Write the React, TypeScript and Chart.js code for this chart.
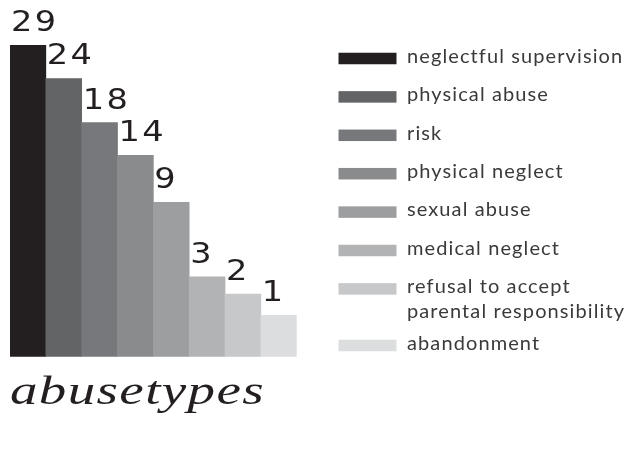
import React, { useEffect, useRef } from "react";
import { Chart, registerables, LinearScale } from "chart.js";

const categories = [
  "neglectful supervision",
  "physical abuse",
  "risk",
  "physical neglect",
  "sexual abuse",
  "medical neglect",
  "refusal to accept parental responsibility",
  "abandonment",
];
const values = [29, 24, 18, 14, 9, 3, 2, 1];
const barColors = [
  "#231f20",
  "#636466",
  "#77787b",
  "#8a8b8d",
  "#9d9ea0",
  "#b2b3b5",
  "#c7c8ca",
  "#dcdddf",
];
const titleText = "abusetypes";

class PowerScale extends LinearScale {
  static id = "power";
  static defaults = { ...LinearScale.defaults };
  getPixelForValue(value: number) {
    const exp = (this.options as any).exponent ?? 1;
    const range = this.max - this.min || 1;
    const t = Math.pow(Math.max(0, (value - this.min) / range), exp);
    return this.getPixelForDecimal(t);
  }
  getValueForPixel(pixel: number) {
    const exp = (this.options as any).exponent ?? 1;
    const range = this.max - this.min || 1;
    const t = Math.max(0, this.getDecimalForPixel(pixel));
    return this.min + Math.pow(t, 1 / exp) * range;
  }
}

Chart.register(...registerables, PowerScale as any);

const valueLabels = {
  id: "valueLabels",
  afterDatasetsDraw(chart: any) {
    const ctx = chart.ctx as CanvasRenderingContext2D;
    const meta = chart.getDatasetMeta(0);
    meta.data.forEach((bar: any, i: number) => {
      const p = bar.getProps(["x", "y", "width"], true);
      const left = p.x - p.width / 2;
      ctx.save();
      ctx.font = '28px "DejaVu Sans"';
      ctx.fillStyle = "#231f20";
      ctx.textAlign = "left";
      ctx.textBaseline = "alphabetic";
      (ctx as any).letterSpacing = "2px";
      ctx.translate(left + 1, p.y - 14);
      ctx.scale(1.2, 1);
      ctx.fillText(String(values[i]), 0, 0);
      ctx.restore();
    });
  },
};

function wrap(ctx: CanvasRenderingContext2D, text: string, maxW: number) {
  const words = text.split(" ");
  const lines: string[] = [];
  let cur = "";
  words.forEach((w) => {
    const test = cur ? cur + " " + w : w;
    if (ctx.measureText(test).width > maxW && cur) {
      lines.push(cur);
      cur = w;
    } else cur = test;
  });
  if (cur) lines.push(cur);
  return lines;
}

const sideLegend = {
  id: "sideLegend",
  afterDraw(chart: any) {
    const ctx = chart.ctx as CanvasRenderingContext2D;
    ctx.save();
    ctx.font = '20px "Lato"';
    (ctx as any).letterSpacing = "1.1px";
    ctx.textAlign = "left";
    ctx.textBaseline = "alphabetic";
    const boxX = 338.5;
    const boxW = 58;
    const boxH = 11.5;
    const textX = 407;
    let cy = 58.5;
    categories.forEach((c, i) => {
      const lines = wrap(ctx, c, 232);
      ctx.fillStyle = barColors[i];
      ctx.fillRect(boxX, cy - boxH / 2, boxW, boxH);
      ctx.fillStyle = "#3a3a3a";
      lines.forEach((ln, j) => {
        ctx.fillText(ln, textX, cy + 4.2 + j * 24.4);
      });
      cy += 38.4 + (lines.length - 1) * 18.2;
    });
    ctx.restore();
  },
};

const scriptTitle = {
  id: "scriptTitle",
  afterDraw(chart: any) {
    const ctx = chart.ctx as CanvasRenderingContext2D;
    ctx.save();
    ctx.font = 'italic 40px "Liberation Serif"';
    ctx.fillStyle = "#231f20";
    ctx.textAlign = "left";
    ctx.textBaseline = "alphabetic";
    (ctx as any).letterSpacing = "1px";
    const w = ctx.measureText(titleText).width;
    const target = 255;
    const sx = target / w;
    ctx.translate(10, 404);
    ctx.scale(sx, 1);
    ctx.fillText(titleText, 0, 0);
    ctx.restore();
  },
};

export default function App() {
  const ref = useRef<HTMLCanvasElement | null>(null);
  useEffect(() => {
    if (!ref.current) return;
    const chart = new Chart(ref.current, {
      type: "bar",
      data: {
        labels: categories,
        datasets: [
          {
            data: values,
            backgroundColor: barColors,
            borderWidth: 0,
            barPercentage: 1,
            categoryPercentage: 1,
          },
        ],
      },
      options: {
        responsive: false,
        animation: false,
        layout: { padding: { left: 10, right: 338.3, top: 45, bottom: 93.3 } },
        plugins: {
          legend: { display: false },
          tooltip: { enabled: false },
          title: { display: false },
        },
        scales: {
          x: { type: "category", display: false, offset: true, grid: { display: false } },
          y: {
            type: "power" as any,
            display: false,
            min: 0,
            max: 29,
            exponent: 0.6,
          } as any,
        },
      },
      plugins: [valueLabels, sideLegend, scriptTitle],
    });
    return () => chart.destroy();
  }, []);
  return (
    <div style={{ position: "absolute", left: 0, top: 0, width: 635, height: 450, background: "#fff" }}>
      <canvas ref={ref} width={635} height={450} style={{ display: "block" }} />
    </div>
  );
}
